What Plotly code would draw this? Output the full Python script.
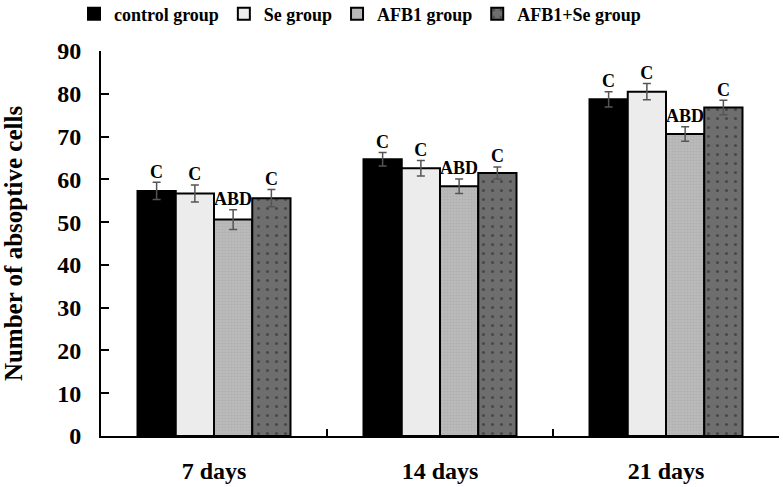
import plotly.graph_objects as go

categories = ["7 days", "14 days", "21 days"]
series_names = ["control group", "Se group", "AFB1 group", "AFB1+Se group"]
control = [57.3, 64.7, 78.7]
se = [56.7, 62.6, 80.5]
afb1 = [50.6, 58.4, 70.6]
afb1_se = [55.6, 61.5, 76.8]
control_err = [2.0, 1.6, 1.8]
se_err = [2.0, 1.8, 1.9]
afb1_err = [2.3, 1.7, 1.7]
afb1_se_err = [2.0, 1.4, 1.7]
sig_labels = [["C", "C", "C"], ["C", "C", "C"], ["ABD", "ABD", "ABD"], ["C", "C", "C"]]
y_ticks = [0, 10, 20, 30, 40, 50, 60, 70, 80, 90]

values = [control, se, afb1, afb1_se]
errors = [control_err, se_err, afb1_err, afb1_se_err]
fills = ["#000000", "#ececec", "#bdbdbd", "#6e6e6e"]
patterns = [
    dict(shape=""),
    dict(shape=""),
    dict(shape=".", fgcolor="#a6a6a6", bgcolor="#bdbdbd", size=3, solidity=0.5),
    dict(shape=".", fgcolor="#222222", bgcolor="#6e6e6e", size=9, solidity=0.1),
]

FONT = "Liberation Serif, Times New Roman, serif"
GAP = 0.323

fig = go.Figure()
for i, name in enumerate(series_names):
    fig.add_trace(go.Bar(
        x=categories, y=values[i], name=name,
        offsetgroup=str(i),
        marker=dict(color=fills[i], line=dict(color="#000000", width=2), pattern=patterns[i]),
        error_y=dict(type="data", array=errors[i], visible=True, color="#555555", thickness=1.5, width=4),
    ))
for i, name in enumerate(series_names):
    fig.add_trace(go.Scatter(
        x=categories, y=[v + e for v, e in zip(values[i], errors[i])],
        mode="text", text=sig_labels[i], textposition="top center",
        textfont=dict(family=FONT, size=18, color="#000000", weight="bold"),
        offsetgroup=str(i), showlegend=False, hoverinfo="skip",
    ))

fig.update_layout(
    width=783, height=487,
    margin=dict(l=101, r=4, t=51, b=51, autoexpand=False),
    paper_bgcolor="white", plot_bgcolor="white",
    barmode="group", bargap=GAP, bargroupgap=0,
    scattermode="group", scattergap=GAP,
    font=dict(family=FONT, color="#000000", weight="bold"),
    showlegend=True,
    legend=dict(orientation="h", x=0.382, xanchor="center", y=1.096, yanchor="middle",
                font=dict(family=FONT, size=18, color="#000000", weight="bold"),
                itemwidth=30, tracegroupgap=0),
    xaxis=dict(
        type="category", showline=True, linecolor="#000000", linewidth=2,
        ticks="inside", tickson="boundaries", ticklen=7, tickwidth=2, tickcolor="#000000",
        tickfont=dict(family=FONT, size=24, color="#000000", weight="bold"),
        ticklabelstandoff=12, showgrid=False, zeroline=False,
    ),
    yaxis=dict(
        range=[0, 90], tickvals=y_ticks, showline=True, linecolor="#000000", linewidth=2,
        ticks="inside", ticklen=8, tickwidth=2, tickcolor="#000000",
        tickfont=dict(family=FONT, size=24, color="#000000", weight="bold"),
        ticklabelstandoff=13, showgrid=False, zeroline=False,
        title=dict(text="Number of absoptive cells", standoff=36,
                   font=dict(family=FONT, size=25, color="#000000", weight="bold")),
    ),
)

fig.write_html("out.html", config={"displayModeBar": False},
               post_script="document.body.style.margin='0';")
